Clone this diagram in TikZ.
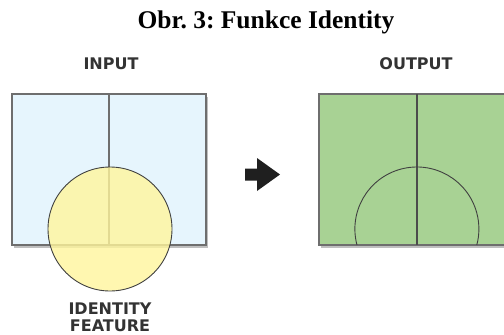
\documentclass[tikz,border=0pt]{standalone}
\usepackage{fontspec}
\setmainfont{Liberation Serif}
\newfontfamily\labelfont{DejaVu Sans}
\usetikzlibrary{shadows}
\definecolor{inblue}{HTML}{E6F5FD}
\definecolor{outgreen}{HTML}{A8D294}
\definecolor{rectline}{HTML}{6E6E6E}
\definecolor{circfill}{HTML}{FFF59C}
\definecolor{labelgray}{HTML}{333333}
\tikzset{
  lbl/.style={font=\labelfont\bfseries\fontsize{16}{16}\selectfont, text=labelgray, inner sep=0pt, align=center},
  panel/.style={draw=rectline, line width=1.3pt, drop shadow={shadow xshift=2pt, shadow yshift=-2.5pt, opacity=0.25, fill=black}},
  divider/.style={draw=rectline, line width=1.3pt},
  feature/.style={draw=black!75, line width=0.9pt},
}
\begin{document}
\frenchspacing
\begin{tikzpicture}[x=1pt,y=-1pt]
\useasboundingbox (0,0) rectangle (504,335);
% title
\node[font=\bfseries\fontsize{25.5}{25.5}\selectfont, inner sep=0pt] (title) at (266,22) {Obr. 3: Funkce Identity};
% labels
\node[lbl] (inlabel) at (111,64) {INPUT};
\node[lbl] (outlabel) at (416,64) {OUTPUT};
\node[lbl, font=\labelfont\bfseries\fontsize{16}{16.5}\selectfont] (idlabel) at (110,317.5) {IDENTITY\\FEATURE};
% input panel
\path[panel, fill=inblue] (12,94) rectangle (206,245);
\draw[divider] (109,94) -- (109,245);
% identity feature circle
\fill[circfill, opacity=0.8] (110,229) circle (62);
\draw[feature] (110,229) circle (62);
% arrow
\fill[black!88] (245,168.5) -- (257,168.5) -- (257,158) -- (280,174.5) -- (257,191) -- (257,180.5) -- (245,180.5) -- cycle;
% output panel
\path[panel, fill=outgreen] (319,94) rectangle (514,245);
\draw[divider, draw=black!70] (417,94) -- (417,245);
\draw[feature] (357,245) arc[start angle=165.04, end angle=374.96, radius=62];
\end{tikzpicture}
\end{document}
